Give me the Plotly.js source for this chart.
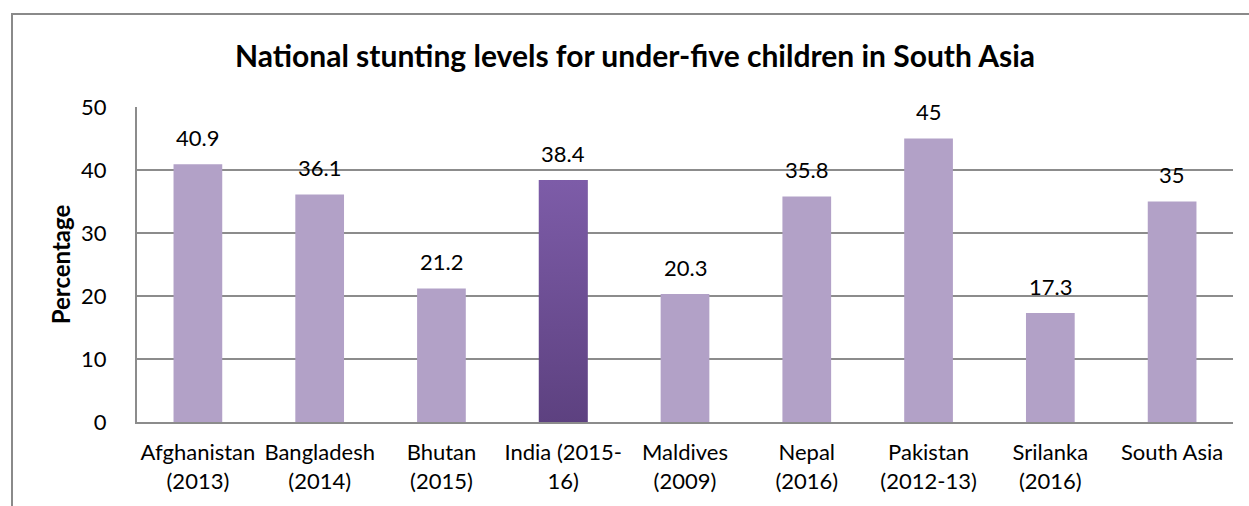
<!DOCTYPE html>
<html>
<head>
<meta charset="utf-8">
<script src="https://cdn.plot.ly/plotly-3.0.1.min.js"></script>
<style>
  html, body { margin: 0; padding: 0; background: #ffffff; }
  #chart { width: 1249px; height: 506px; }
</style>
</head>
<body>
<div id="chart"></div>
<script>
// ---- data ----
const categories = [
  "Afghanistan<br>(2013)",
  "Bangladesh<br>(2014)",
  "Bhutan<br>(2015)",
  "India (2015-<br>16)",
  "Maldives<br>(2009)",
  "Nepal<br>(2016)",
  "Pakistan<br>(2012-13)",
  "Srilanka<br>(2016)",
  "South Asia"
];
const stunting = [40.9, 36.1, 21.2, 38.4, 20.3, 35.8, 45, 17.3, 35];
const valueLabels = ["40.9", "36.1", "21.2", "38.4", "20.3", "35.8", "45", "17.3", "35"];
const highlighted = "India (2015-<br>16)";
const yTicks = [0, 10, 20, 30, 40, 50];

// ---- styles ----
const FONT = "Lato, 'Open Sans', sans-serif";
const baseColor = "#b2a1c7";
const highlightColor = "#6c4f94";
const gridColor = "#8c8c8c";
const barWidth = 0.4;

const colors = categories.map(c => c === highlighted ? highlightColor : baseColor);

const traces = [{
  type: "bar",
  x: categories,
  y: stunting,
  width: barWidth,
  marker: { color: colors, line: { width: 0 } },
  hoverinfo: "x+y",
  showlegend: false
}];

// gradient overlay for the highlighted bar, built from the data arrays
const hi = categories.indexOf(highlighted);
if (hi >= 0) {
  const v = stunting[hi];
  traces.push({
    type: "scatter",
    mode: "lines",
    xaxis: "x2",
    yaxis: "y",
    x: [hi - barWidth / 2, hi - barWidth / 2, hi + barWidth / 2, hi + barWidth / 2, hi - barWidth / 2],
    y: [0, v, v, 0, 0],
    fill: "toself",
    line: { width: 0, color: "rgba(0,0,0,0)" },
    fillgradient: {
      type: "vertical",
      colorscale: [[0, "#5d4180"], [1, "#7d5ca8"]]
    },
    hoverinfo: "skip",
    showlegend: false
  });
}

const annotations = categories.map((c, i) => ({
  x: c,
  y: stunting[i],
  xref: "x",
  yref: "y",
  text: valueLabels[i],
  showarrow: false,
  yanchor: "middle",
  yshift: 27,
  font: { family: FONT, size: 22, color: "#000000" }
}));

// outer chart frame (left and top edges)
const L = 137, R = 16, T = 107, B = 84, W = 1249, H = 506;
const pw = W - L - R, ph = H - T - B;
const px = p => (p - L) / pw;
const py = p => (H - B - p) / ph;

const layout = {
  width: W,
  height: H,
  margin: { l: L, r: R, t: T, b: B, pad: 0 },
  paper_bgcolor: "#ffffff",
  plot_bgcolor: "#ffffff",
  font: { family: FONT, size: 22, color: "#000000" },
  title: {
    text: "<b>National stunting levels for under-five children in South Asia</b>",
    font: { family: FONT, size: 30, color: "#000000" },
    x: 635 / W,
    xanchor: "center",
    y: 1 - 56 / H,
    yanchor: "middle"
  },
  bargap: 0.6,
  xaxis: {
    type: "category",
    showgrid: false,
    showline: true,
    linecolor: gridColor,
    linewidth: 2,
    ticks: "",
    ticklabelstandoff: 10,
    tickfont: { family: FONT, size: 22, color: "#000000" },
    fixedrange: true
  },
  xaxis2: {
    overlaying: "x",
    range: [-0.5, categories.length - 0.5],
    visible: false,
    fixedrange: true
  },
  yaxis: {
    range: [0, 50],
    tickvals: yTicks,
    showgrid: true,
    gridcolor: gridColor,
    gridwidth: 2,
    zeroline: false,
    showline: true,
    linecolor: gridColor,
    linewidth: 2,
    ticks: "",
    ticklabelstandoff: 24,
    tickfont: { family: FONT, size: 22, color: "#000000" },
    title: {
      text: "<b>Percentage</b>",
      font: { family: FONT, size: 24, color: "#000000" },
      standoff: 4
    },
    fixedrange: true
  },
  annotations: annotations,
  shapes: [{
    type: "path",
    xref: "paper",
    yref: "paper",
    path: `M ${px(12)} ${py(H + 5)} L ${px(12)} ${py(14)} L ${px(W + 5)} ${py(14)}`,
    line: { color: "#8a8a8a", width: 2 },
    layer: "above"
  }]
};

Plotly.newPlot("chart", traces, layout, { displayModeBar: false, staticPlot: true });
</script>
</body>
</html>
